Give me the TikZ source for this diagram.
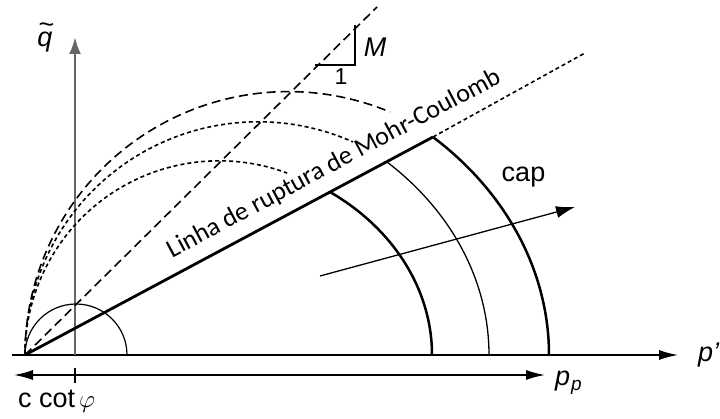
\documentclass[tikz,border=0pt]{standalone}
\usepackage{fontspec}
\setmainfont{Liberation Sans}
\newfontfamily\calib{Carlito}
\usetikzlibrary{arrows.meta}
\begin{document}
\begin{tikzpicture}[x=1pt,y=1pt,
  axisline/.style={line width=1.4pt,-{Latex[length=19pt,width=10pt]}},
  qaxis/.style={line width=2.6pt,black!60,-{Latex[length=17pt,width=12pt]},shorten >=-1pt},
  mcline/.style={line width=2.8pt},
  capthick/.style={line width=2.5pt},
  capthin/.style={line width=1.3pt},
  longdash/.style={line width=1.6pt,dash pattern=on 9pt off 5pt},
  shortdash/.style={line width=1.6pt,dash pattern=on 4pt off 3pt},
  lab/.style={font=\fontsize{27}{32}\selectfont,inner sep=0pt},
  mctext/.style={font=\calib\fontsize{26}{30}\selectfont,inner sep=0pt}]
\useasboundingbox (-25,-64) rectangle (695,355);
% coordinates
\coordinate (O) at (0,0);
\coordinate (pL) at (-13,0);
\coordinate (pR) at (653,0);
\coordinate (qB) at (50,0);
\coordinate (qT) at (50,317);
\coordinate (MCend) at (408,218);
\coordinate (MCdot) at (560,302);
\coordinate (CSL) at (352,348);
\coordinate (tA) at (290,290);
\coordinate (tB) at (330,290);
\coordinate (tC) at (330,330);
\coordinate (dL) at (-11,-20);
\coordinate (dR) at (520,-20);
\coordinate (tk1) at (50,-13);
\coordinate (tk2) at (50,-28);
\coordinate (cA) at (295,79);
\coordinate (cB) at (550,148);
\coordinate (cap1) at (407,0);
\coordinate (cap2) at (464,0);
\coordinate (cap3) at (524,0);
% axes
\draw[axisline] (pL) -- (pR);
\draw[qaxis] (qB) -- (qT);
% lower dimension arrow
\draw[line width=1.4pt,{Latex[length=19pt,width=10pt]}-{Latex[length=19pt,width=10pt]}] (dL) -- (dR);
\draw[line width=1.4pt] (tk1) -- (tk2);
% Mohr circles / dashed arcs
\draw[longdash] (O) arc[start angle=180,end angle=67.3,radius=263.4];
\draw[shortdash] (O) arc[start angle=180,end angle=66,radius=233.2];
\draw[shortdash] (O) arc[start angle=180,end angle=69.5,radius=194.2];
\draw[line width=1.2pt] (O) arc[start angle=180,end angle=0,radius=51];
% critical state line and slope triangle
\draw[longdash] (O) -- (CSL);
\draw[line width=1.4pt] (tA) -- (tB) -- (tC);
% Mohr-Coulomb line
\draw[mcline] (O) -- (MCend);
\draw[shortdash] (MCend) -- (MCdot);
% caps
\draw[capthick] (cap1) arc[start angle=0,end angle=55.2,x radius=237.8,y radius=198.6];
\draw[capthin] (cap2) arc[start angle=0,end angle=47.6,x radius=312.9,y radius=261.3];
\draw[capthick] (cap3) arc[start angle=0,end angle=47.9,x radius=351.8,y radius=293.7];
% cap arrow
\draw[line width=1.3pt,-{Latex[length=19pt,width=12pt]}] (cA) -- (cB);
% labels
\node[mctext,rotate=28.1,anchor=base] (mc) at (312.5,185) {Linha de ruptura de Mohr-Coulomb};
\node[lab,anchor=base] (qlab) at (20,308) {\itshape q\llap{\raisebox{13pt}{\upshape\textasciitilde}\kern-2pt}};
\node[lab,anchor=base] (Mlab) at (350,298) {\itshape M};
\node[lab,anchor=base,font=\fontsize{23}{28}\selectfont] (onelab) at (316,270) {1};
\node[lab,anchor=base] (caplab) at (498.5,173) {cap};
\node[lab,anchor=base west] (plab) at (673,-7) {\itshape p'};
\node[lab,anchor=base west] (pplab) at (530,-31) {\itshape p\kern1pt\raisebox{-5pt}{\fontsize{19}{22}\selectfont p}};
\node[lab,anchor=base west] (ccot) at (-7,-53) {c cot\kern4pt$\varphi$};
\end{tikzpicture}
\end{document}
